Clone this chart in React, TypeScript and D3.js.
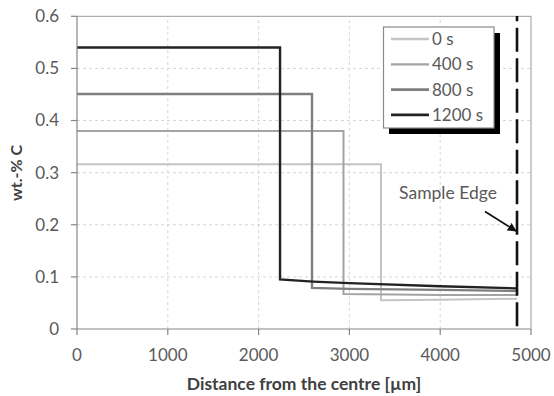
import React from "react";
import * as d3 from "d3";

const W = 554, H = 396;
const xTicks = [0, 1000, 2000, 3000, 4000, 5000];
const yTicks = [0, 0.1, 0.2, 0.3, 0.4, 0.5, 0.6];
const seriesNames = ["0 s", "400 s", "800 s", "1200 s"];
const seriesColors = ["#c4c4c4", "#a3a3a3", "#7f7f7f", "#222222"];
const seriesWidths = [2, 2, 2.4, 2.4];
// plateau value and the position of the step
const plateau = [0.316, 0.38, 0.451, 0.54];
const stepX = [3348, 2935, 2588, 2236];
// tail points after the drop [x, value]
const tail0: [number, number][] = [[3348, 0.055], [4000, 0.056], [4846, 0.058]];
const tail400: [number, number][] = [[2935, 0.067], [3500, 0.066], [4000, 0.065], [4846, 0.065]];
const tail800: [number, number][] = [[2588, 0.079], [3000, 0.077], [4000, 0.075], [4846, 0.073]];
const tail1200: [number, number][] = [[2236, 0.095], [2600, 0.091], [3000, 0.088], [4000, 0.082], [4846, 0.078]];
const tails = [tail0, tail400, tail800, tail1200];
const sampleEdge = 4846;

export default function App() {
  const x = d3.scaleLinear().domain([0, 5000]).range([77, 531]);
  const y = d3.scaleLinear().domain([0, 0.6]).range([329, 16.3]);
  const line = d3.line<[number, number]>().x(d => x(d[0])).y(d => y(d[1]));
  const font = "Lato, 'Open Sans', sans-serif";
  const order = [0, 1, 2, 3];
  return (
    <svg width={W} height={H} style={{ position: "absolute", left: 0, top: 0 }} fontFamily={font}>
      <rect width={W} height={H} fill="white" />
      {/* grid */}
      {yTicks.slice(1, -1).map(t => (
        <line key={"gy" + t} x1={x(0)} x2={x(5000)} y1={y(t)} y2={y(t)} stroke="#d6d6d6" strokeDasharray="3,3" strokeWidth={1} />
      ))}
      {xTicks.slice(1, -1).map(t => (
        <line key={"gx" + t} x1={x(t)} x2={x(t)} y1={y(0)} y2={y(0.6)} stroke="#d6d6d6" strokeDasharray="3,3" strokeWidth={1} />
      ))}
      {/* plot border */}
      <line x1={x(0)} x2={x(5000)} y1={y(0.6)} y2={y(0.6)} stroke="#9a9a9a" strokeWidth={1} />
      <line x1={x(5000)} x2={x(5000)} y1={y(0.6)} y2={y(0)} stroke="#9a9a9a" strokeWidth={1} />
      {/* series */}
      {order.map(i => {
        const pts: [number, number][] = [[0, plateau[i]], [stepX[i], plateau[i]], ...tails[i]];
        return <path key={i} d={line(pts) || ""} fill="none" stroke={seriesColors[i]} strokeWidth={seriesWidths[i]} strokeLinejoin="miter" />;
      })}
      {/* axes */}
      <line x1={x(0)} x2={x(0)} y1={y(0.6)} y2={y(0)} stroke="#868686" strokeWidth={1.2} />
      <line x1={x(0)} x2={x(5000)} y1={y(0)} y2={y(0)} stroke="#868686" strokeWidth={1.2} />
      {yTicks.map(t => (
        <g key={"yt" + t}>
          <line x1={x(0) - 6} x2={x(0)} y1={y(t)} y2={y(t)} stroke="#868686" strokeWidth={1.2} />
          <text x={59} y={y(t)} dy="0.35em" textAnchor="end" fontSize={17} fill="#595959">{t === 0 ? "0" : t.toFixed(1)}</text>
        </g>
      ))}
      {xTicks.map(t => (
        <g key={"xt" + t}>
          <line x1={x(t)} x2={x(t)} y1={y(0)} y2={y(0) + 6} stroke="#868686" strokeWidth={1.2} />
          <text x={x(t)} y={355.5} dy="0.35em" textAnchor="middle" fontSize={17} fill="#595959">{t}</text>
        </g>
      ))}
      {/* sample edge */}
      <line x1={x(sampleEdge)} x2={x(sampleEdge)} y1={16} y2={331} stroke="#111" strokeWidth={2.6} strokeDasharray="24,6.5" strokeDashoffset={18.8} />
      <text x={448} y={193} dy="0.35em" textAnchor="middle" fontSize={17.5} fill="#595959">Sample Edge</text>
      <defs>
        <marker id="ah" viewBox="0 0 10 10" refX="9" refY="5" markerWidth="5" markerHeight="5" orient="auto">
          <path d="M0,0 L10,5 L0,10 z" fill="#111" />
        </marker>
      </defs>
      <line x1={485} y1={211.5} x2={x(sampleEdge) - 1} y2={231} stroke="#111" strokeWidth={1.8} markerEnd="url(#ah)" />
      {/* legend */}
      <rect x={389} y={33} width={111} height={101} fill="#000" />
      <rect x={383.5} y={27} width={110.5} height={101} fill="white" stroke="#8a8a8a" strokeWidth={1.2} />
      {seriesNames.map((n, i) => (
        <g key={n}>
          <line x1={391} x2={429} y1={39 + i * 25.3} y2={39 + i * 25.3} stroke={seriesColors[i]} strokeWidth={seriesWidths[i] + 0.3} />
          <text x={432} y={39 + i * 25.3} dy="0.35em" fontSize={17} fill="#595959">{n}</text>
        </g>
      ))}
      {/* axis titles */}
      <text transform="translate(22,173) rotate(-90)" textAnchor="middle" fontSize={16} fontWeight="bold" fill="#404040">wt.-% C</text>
      <text x={304} y={384} dy="0.35em" textAnchor="middle" fontSize={17.5} fontWeight="bold" fill="#404040">Distance from the centre [µm]</text>
    </svg>
  );
}
